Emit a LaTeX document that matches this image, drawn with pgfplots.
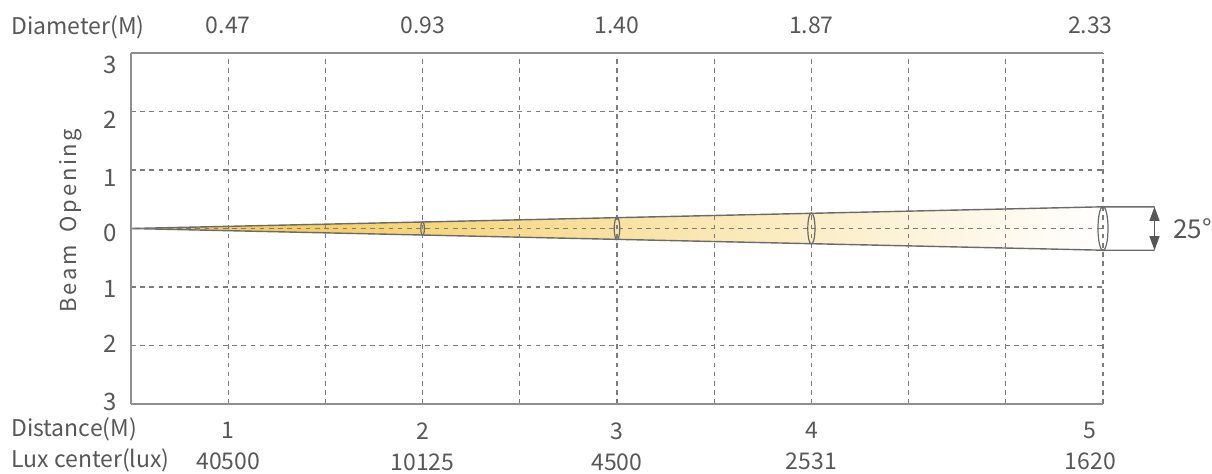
\documentclass[border=0pt]{standalone}
\usepackage{pgfplots}
\pgfplotsset{compat=1.18}
\usepackage{fontspec}
\setmainfont{Noto Sans CJK SC}
\usetikzlibrary{arrows.meta}

\definecolor{txt}{HTML}{575757}
\definecolor{framec}{HTML}{8E8E8E}
\definecolor{gridc}{HTML}{7C7C7C}
\definecolor{beamline}{HTML}{6A6A6A}
\definecolor{beamfill}{HTML}{F2C444}

% ring drawn round the beam at a given distance
\pgfdeclareplotmark{beamring}{%
  \pgfpathellipse{\pgfpointorigin}{\pgfpoint{\ellrx pt}{0pt}}{\pgfpoint{0pt}{\ellry pt}}%
  \pgfusepathqstroke}

\pgfplotstableread{
x  y  rx   ry
3  0  0.9  3.4
5  0  1.4  5.6
7  0  1.8  7.8
10 0  2.5  11.0
}\rings

\begin{document}
\fontsize{11.5}{15.5}\selectfont
\begin{tikzpicture}
\useasboundingbox (-65.5pt,-34.5pt) rectangle (540.5pt,202pt);
\begin{axis}[
  scale only axis, width=486pt, height=175.5pt,
  xmin=0, xmax=10, ymin=-3, ymax=3,
  enlargelimits=false, clip=false, axis on top,
  every non boxed x axis/.style={},
  every non boxed y axis/.style={},
  axis x line*=box, axis y line*=left,
  axis line style={-, draw=framec, line width=0.8pt},
  major tick length=0pt, minor tick length=0pt,
  xtick={1,3,5,7,9.87},
  xticklabels={{1\\40500},{2\\10125},{3\\4500},{4\\2531},{5\\1620}},
  xticklabel style={align=center, inner sep=0pt, anchor=north, yshift=-9pt, text=txt},
  ytick={2.79,1.85,0.87,-0.07,-1.03,-1.97,-2.97},
  yticklabels={3,2,1,0,1,2,3},
  yticklabel style={anchor=east, inner sep=0pt, xshift=-7pt, text=txt,
    font=\fontsize{12}{14}\selectfont},
  minor xtick={1,...,10}, minor ytick={-2,...,2},
  grid=minor,
  minor grid style={draw=gridc, line width=0.6pt, dash pattern=on 2.3pt off 2.3pt},
  /pgf/number format/assume math mode=true,
]
\addplot[draw=none, left color=beamfill, right color=white]
  coordinates {(0,0) (10,0.371) (10,-0.371)} -- cycle;
\addplot[beamline, line width=0.7pt] coordinates {(0,0) (10,0.371) (10.53,0.371)};
\addplot[beamline, line width=0.7pt] coordinates {(0,0) (10,-0.371) (10.53,-0.371)};
\addplot[only marks, scatter, mark=beamring, point meta=\thisrow{ry},
  visualization depends on={\thisrow{rx} \as \ellrx},
  visualization depends on={\thisrow{ry} \as \ellry},
  scatter/@pre marker code/.code={\scope[draw=beamline, line width=0.6pt]},
  scatter/@post marker code/.code={\endscope}]
  table[x=x, y=y] {\rings};
\addplot[draw=txt, line width=0.6pt,
  {Triangle[length=7pt,width=5pt]}-{Triangle[length=7pt,width=5pt]}]
  coordinates {(10.53,-0.371) (10.53,0.371)};
\node[anchor=west, inner sep=0pt, text=txt, font=\fontsize{13}{15}\selectfont]
  at (axis cs:10.72,0) {25°};
\node[anchor=base west, inner sep=0pt, text=txt] at (rel axis cs:-0.1235,1.054) {Diameter(M)};
\node[anchor=base west, inner sep=0pt, text=txt] at (rel axis cs:-0.1235,-0.094) {Distance(M)};
\node[anchor=base west, inner sep=0pt, text=txt] at (rel axis cs:-0.1235,-0.182) {Lux center(lux)};
\node[rotate=90, anchor=base, inner sep=0pt, text=txt,
  font=\fontsize{11}{13}\selectfont\addfontfeature{LetterSpace=12}]
  at (rel axis cs:-0.0556,0.523) {Beam\hspace{0.25em} Opening};
\end{axis}
\begin{axis}[
  scale only axis, width=486pt, height=175.5pt,
  xmin=0, xmax=10, ymin=-3, ymax=3,
  every non boxed x axis/.style={},
  hide y axis, axis x line=top, x axis line style={draw=none},
  major tick length=0pt,
  xtick={1,3,5,7,9.87},
  xticklabels={0.47,0.93,1.40,1.87,2.33},
  xticklabel style={anchor=south, inner sep=0pt, yshift=9.5pt, text=txt},
]
\end{axis}
\end{tikzpicture}
\end{document}
